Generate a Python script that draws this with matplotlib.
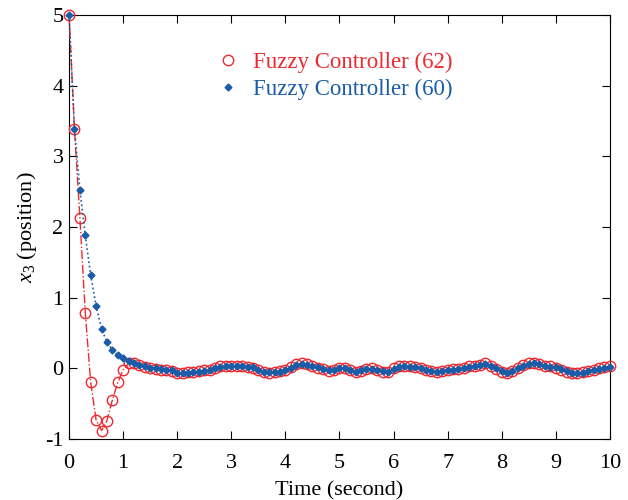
import matplotlib.pyplot as plt
from matplotlib.lines import Line2D
import numpy as np

plt.rcParams['font.family'] = ['Liberation Serif', 'DejaVu Serif']
plt.rcParams['mathtext.fontset'] = 'custom'
plt.rcParams['mathtext.rm'] = 'Liberation Serif'
plt.rcParams['mathtext.it'] = 'Liberation Serif:italic'
plt.rcParams['axes.unicode_minus'] = False

# time samples, 0.1 s step
time = np.round(np.arange(0, 10.01, 0.1), 1)

x3_fc60 = [5.00, 3.38, 2.53, 1.88, 1.32, 0.88, 0.56, 0.37, 0.26, 0.19,
           0.15, 0.11, 0.08, 0.05, 0.03, 0.01, 0.00, -0.01, -0.02, -0.03,
           -0.06, -0.07, -0.06, -0.05, -0.045, -0.04, -0.02, 0.00, 0.02, 0.03,
           0.035, 0.035, 0.03, 0.02, 0.015, -0.02, -0.05, -0.05, -0.045, -0.045,
           -0.03, 0.01, 0.05, 0.065, 0.05, 0.03, 0.02, -0.01, -0.03, -0.02,
           0.00, 0.00, -0.02, -0.05, -0.03, -0.01, -0.01, -0.02, -0.04, -0.045,
           -0.01, 0.025, 0.03, 0.025, 0.02, 0.00, -0.02, -0.04, -0.045, -0.04,
           -0.03, -0.02, -0.01, 0.01, 0.02, 0.03, 0.045, 0.065, 0.04, 0.00,
           -0.04, -0.06, -0.04, 0.00, 0.04, 0.065, 0.075, 0.06, 0.04, 0.025,
           0.02, -0.01, -0.04, -0.06, -0.065, -0.06, -0.04, -0.02, -0.01, 0.01,
           0.02]

x3_fc62 = [5.00, 3.38, 2.13, 0.78, -0.20, -0.73, -0.88, -0.74, -0.45, -0.20,
           -0.02, 0.07, 0.08, 0.05, 0.02, 0.00, -0.01, -0.02, -0.03, -0.04,
           -0.07, -0.07, -0.05, -0.05, -0.04, -0.03, -0.02, 0.01, 0.03, 0.04,
           0.04, 0.03, 0.03, 0.02, 0.01, -0.03, -0.05, -0.06, -0.05, -0.04,
           -0.02, 0.02, 0.06, 0.07, 0.06, 0.03, 0.01, -0.01, -0.04, -0.02,
           0.00, 0.01, -0.02, -0.05, -0.04, -0.01, 0.00, -0.02, -0.05, -0.05,
           0.00, 0.03, 0.04, 0.03, 0.02, 0.00, -0.03, -0.04, -0.05, -0.04,
           -0.03, -0.01, -0.01, 0.01, 0.03, 0.04, 0.05, 0.07, 0.04, -0.01,
           -0.05, -0.07, -0.04, 0.01, 0.05, 0.07, 0.07, 0.06, 0.04, 0.03,
           0.01, -0.02, -0.05, -0.06, -0.07, -0.05, -0.04, -0.02, 0.00, 0.02,
           0.03]

red = '#ee2a2f'
blue = '#1a5ca8'

fig = plt.figure(figsize=(6.28, 5.0), dpi=100)
ax = fig.add_axes([0.110, 0.122, 0.861, 0.848])

ax.plot(time, x3_fc62, color=red, linestyle='-.', linewidth=1.0,
        marker='o', markersize=7.5, markerfacecolor='none',
        markeredgecolor=red, markeredgewidth=1.0, clip_on=False, zorder=3)
ax.plot(time, x3_fc60, color=blue, linestyle=':', linewidth=1.2,
        marker='D', markersize=3.5, markerfacecolor=blue,
        markeredgecolor=blue, clip_on=False, zorder=4)

ax.set_xlim(0, 10)
ax.set_ylim(-1, 5)
ax.set_xticks(range(0, 11))
ax.set_yticks(range(-1, 6))
ax.tick_params(direction='in', top=True, right=True, labelsize=16,
               length=6, width=0.8)
ax.tick_params(axis='x', pad=11)
ax.tick_params(axis='y', pad=4)
for s in ax.spines.values():
    s.set_linewidth(0.8)

ax.set_xlabel('Time (second)', fontsize=16, labelpad=6)
ax.set_ylabel('$x_3$ (position)', fontsize=16, labelpad=4)

handles = [Line2D([], [], linestyle='none', marker='o', markersize=7.5,
                  markerfacecolor='none', markeredgecolor=red),
           Line2D([], [], linestyle='none', marker='D', markersize=3.5,
                  markerfacecolor=blue, markeredgecolor=blue)]
leg = ax.legend(handles, ['Fuzzy Controller (62)', 'Fuzzy Controller (60)'],
                loc='upper left', bbox_to_anchor=(0.243, 0.95),
                frameon=False, fontsize=16.5, handlelength=1.0,
                handletextpad=0.6, labelspacing=0.25, borderpad=0.2)
for text, col in zip(leg.get_texts(), [red, blue]):
    text.set_color(col)

plt.savefig('out.png', dpi=100)
